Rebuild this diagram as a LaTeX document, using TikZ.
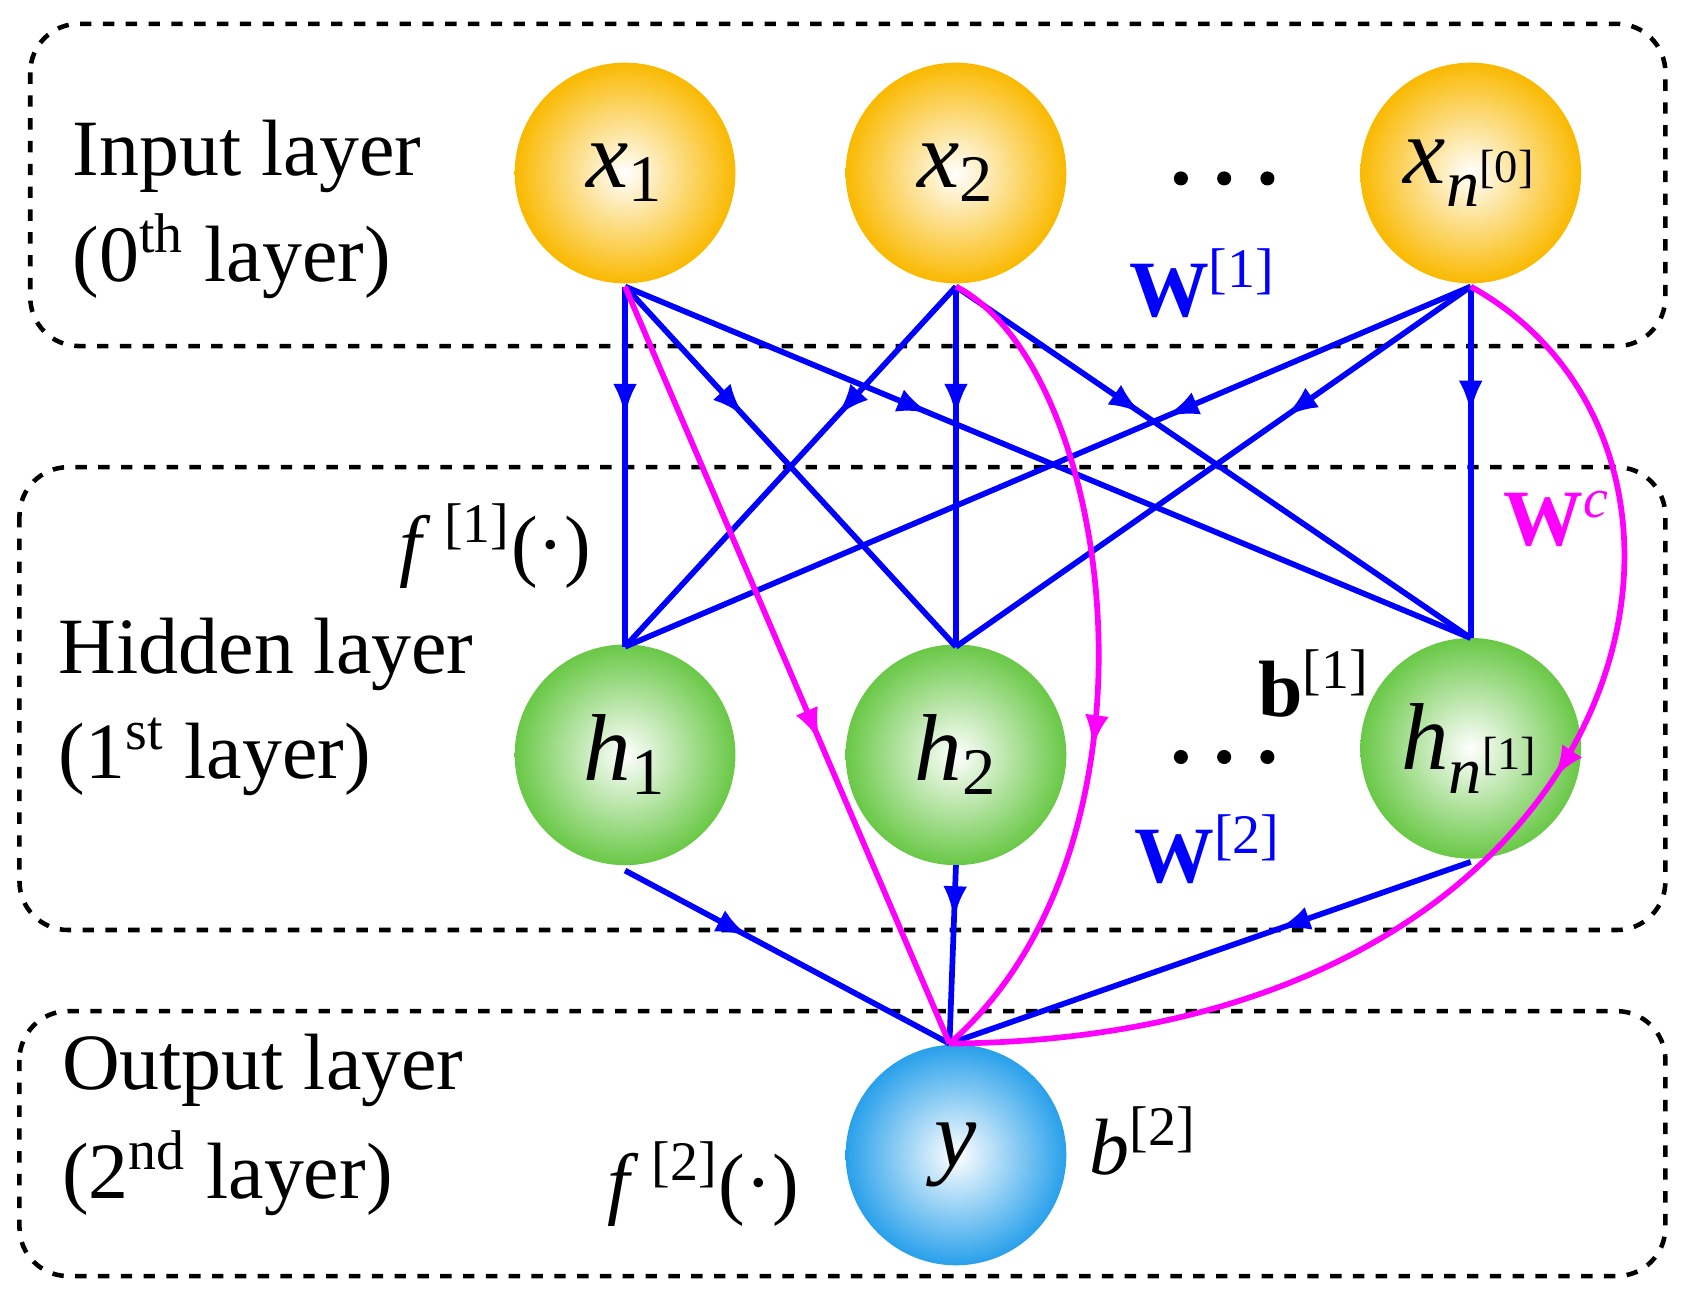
\documentclass[tikz,border=0pt]{standalone}
\usepackage{fontspec}
\setmainfont{Liberation Serif}
\usetikzlibrary{decorations.markings,arrows.meta}
\definecolor{mag}{RGB}{255,0,255}
\begin{document}
\begin{tikzpicture}[x=0.01cm,y=-0.01cm,
 box/.style={draw,dashed,line width=1.2pt,rounded corners=0.45cm},
 neuron/.style={circle,minimum size=2.04cm,inner sep=0pt,font=\fontsize{25}{25}\selectfont},
 inp/.style={neuron,inner color=white,outer color={rgb,255:red,250;green,185;blue,0}},
 hid/.style={neuron,inner color=white,outer color={rgb,255:red,105;green,200;blue,70}},
 outp/.style={neuron,inner color=white,outer color={rgb,255:red,40;green,160;blue,235}},
 lbl/.style={font=\fontsize{21}{21}\selectfont,align=left,anchor=west},
 arr/.style={line width=1.5pt,postaction={decorate},decoration={markings,mark=at position #1 with {\arrow{Latex[length=0.3cm,width=0.22cm]}}}},
 bl/.style={arr=#1,blue},
 mg/.style={arr=#1,mag},
 big/.style={font=\fontsize{21}{21}\selectfont},
 dot/.style={circle,fill,inner sep=0pt,minimum size=0.13cm}]
\useasboundingbox (0,0) rectangle (1560,1203);
\draw[box] (28,22) rectangle (1540,320);
\draw[box] (18,432) rectangle (1540,860);
\draw[box] (18,935) rectangle (1540,1180);
\node[lbl] at (55,145) {Input layer};
\node[lbl] at (55,237) {(0\textsuperscript{th} layer)};
\node[lbl] at (42,605) {Hidden layer};
\node[lbl] at (42,700) {(1\textsuperscript{st} layer)};
\node[lbl] at (45,990) {Output layer};
\node[lbl] at (45,1085) {(2\textsuperscript{nd} layer)};
\node[inp] (x1) at (578,160) {\textit{x}\textsubscript{1}};
\node[inp] (x2) at (884,160) {\textit{x}\textsubscript{2}};
\node[inp] (xn) at (1360,160) {\textit{x}\textsubscript{\textit{n}\textsuperscript{[0]}}};
\node[hid] (h1) at (578,698) {\textit{h}\textsubscript{1}};
\node[hid] (h2) at (884,698) {\textit{h}\textsubscript{2}};
\node[hid] (hn) at (1360,692) {\textit{h}\textsubscript{\textit{n}\textsuperscript{[1]}}};
\node[outp] (y) at (884,1068) {\textit{y}};
\foreach \xx in {1092,1132,1172}{\node[dot] at (\xx,165) {}; \node[dot] at (\xx,700) {};}
\node[big,blue] (w1) at (1112,262) {\textbf{W}\textsuperscript{[1]}};
\node[big,blue] (w2) at (1117,785) {\textbf{W}\textsuperscript{[2]}};
\node[big,mag] (wc) at (1440,480) {\textbf{W}\textsuperscript{\textit{c}}};
\node[big] (b1) at (1215,632) {\textbf{b}\textsuperscript{[1]}};
\node[big] (f1) at (458,505) {\textit{f}\,\textsuperscript{[1]}(·)};
\node[big] (f2) at (650,1095) {\textit{f}\,\textsuperscript{[2]}(·)};
\node[big] (b2) at (1057,1055) {\textit{b}\textsuperscript{[2]}};
\coordinate (x1b) at (578,265); \coordinate (x2b) at (884,265); \coordinate (xnb) at (1360,265);
\coordinate (h1t) at (578,598); \coordinate (h2t) at (884,598); \coordinate (hnt) at (1360,590);
\coordinate (h1b) at (578,805); \coordinate (h2b) at (884,800); \coordinate (hnb) at (1360,797);
\coordinate (yt) at (878,965);
\foreach \s in {x1b,x2b,xnb}{\foreach \t in {h1t,h2t,hnt}{
  \draw[bl=0.36] (\s) -- (\t);}}
\draw[bl=0.38] (h1b) -- (yt);
\draw[bl=0.3] (h2b) -- (yt);
\draw[bl=0.37] (hnb) -- (yt);
\draw[mg=0.6] (x1b) -- (yt);
\draw[mg=0.6] (x2b) .. controls (1030,340) and (1090,780) .. (yt);
\draw[mg=0.45] (xnb) .. controls (1640,420) and (1520,960) .. (yt);
\end{tikzpicture}
\end{document}
